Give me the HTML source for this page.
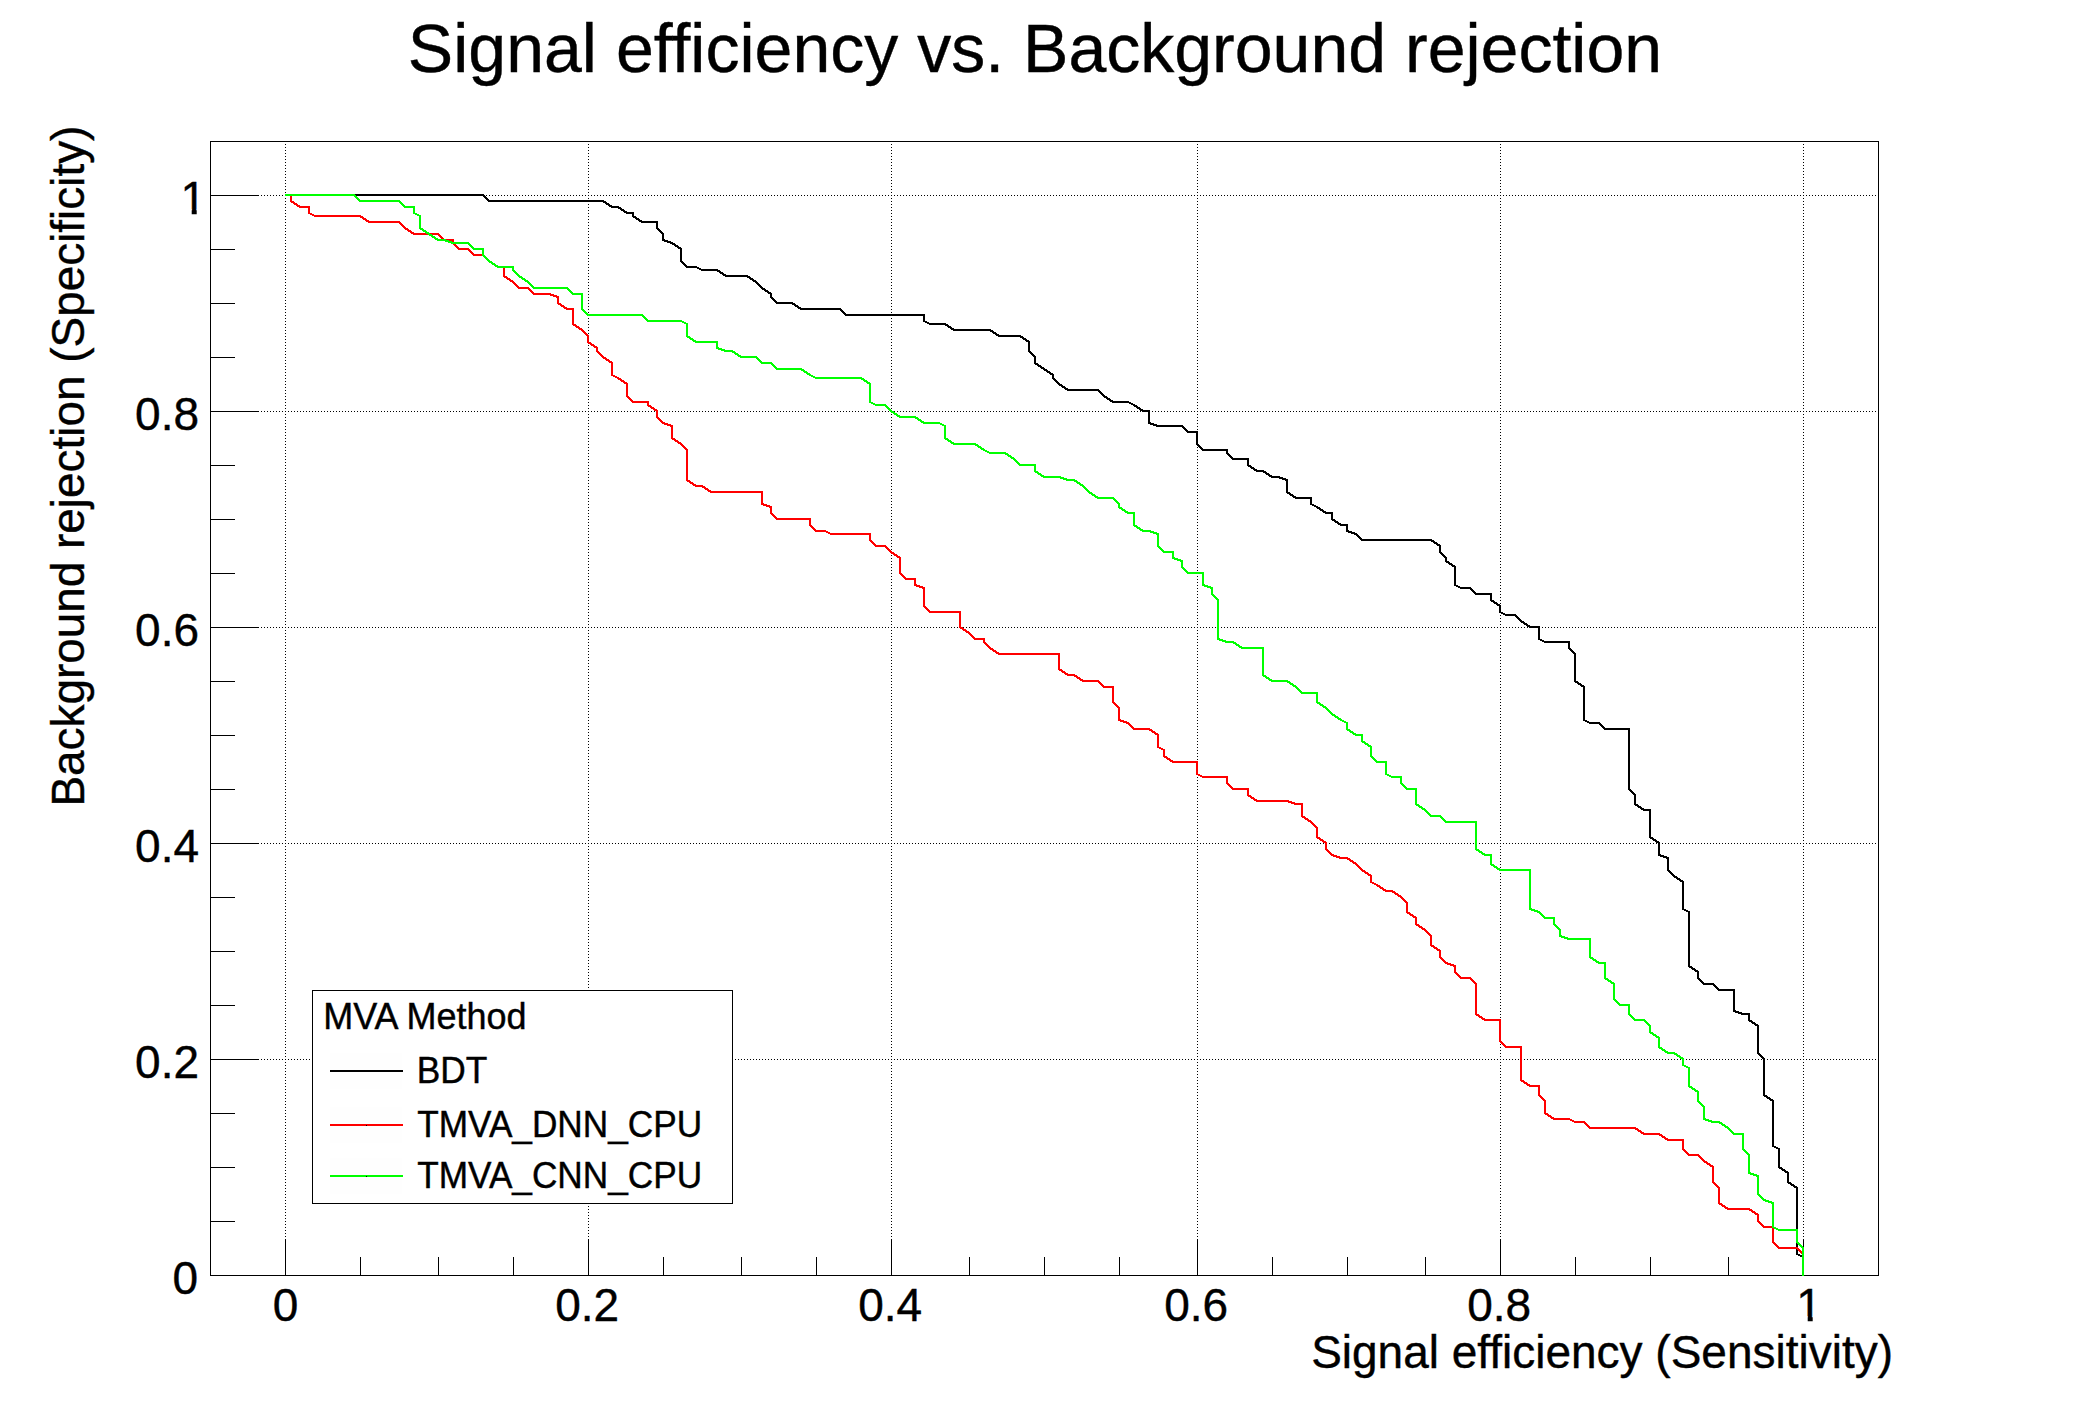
<!DOCTYPE html>
<html lang="en"><head><meta charset="utf-8"><title>Signal efficiency vs. Background rejection</title>
<style>html,body{margin:0;padding:0;background:#fff;overflow:hidden;}svg{display:block;}text{font-family:"Liberation Sans",Arial,Helvetica,sans-serif;fill:#000;stroke:#000;stroke-width:0.4px;font-variant-ligatures:none;}</style></head><body>
<svg width="2088" height="1416" viewBox="0 0 2088 1416">
<rect x="0" y="0" width="2088" height="1416" fill="#fff"/>
<text transform="translate(1035.0,72.0) scale(1,1.015)" font-size="68.04" text-anchor="middle">Signal efficiency vs. Background rejection</text>
<g shape-rendering="crispEdges" stroke="#000" stroke-width="1" fill="none">
<g stroke-dasharray="1 2">
<line x1="285.5" y1="141" x2="285.5" y2="1275"/>
<line x1="588.5" y1="141" x2="588.5" y2="1275"/>
<line x1="891.5" y1="141" x2="891.5" y2="1275"/>
<line x1="1197.5" y1="141" x2="1197.5" y2="1275"/>
<line x1="1500.5" y1="141" x2="1500.5" y2="1275"/>
<line x1="1803.5" y1="141" x2="1803.5" y2="1275"/>
<line x1="210" y1="1059.5" x2="1878" y2="1059.5"/>
<line x1="210" y1="843.5" x2="1878" y2="843.5"/>
<line x1="210" y1="627.5" x2="1878" y2="627.5"/>
<line x1="210" y1="411.5" x2="1878" y2="411.5"/>
<line x1="210" y1="195.5" x2="1878" y2="195.5"/>
</g>
<rect x="210.5" y="141.5" width="1668" height="1134"/>
<line x1="285.5" y1="1239" x2="285.5" y2="1275"/>
<line x1="360.5" y1="1257" x2="360.5" y2="1275"/>
<line x1="210" y1="1221.5" x2="235" y2="1221.5"/>
<line x1="438.5" y1="1257" x2="438.5" y2="1275"/>
<line x1="210" y1="1167.5" x2="235" y2="1167.5"/>
<line x1="513.5" y1="1257" x2="513.5" y2="1275"/>
<line x1="210" y1="1113.5" x2="235" y2="1113.5"/>
<line x1="588.5" y1="1239" x2="588.5" y2="1275"/>
<line x1="210" y1="1059.5" x2="259" y2="1059.5"/>
<line x1="663.5" y1="1257" x2="663.5" y2="1275"/>
<line x1="210" y1="1005.5" x2="235" y2="1005.5"/>
<line x1="741.5" y1="1257" x2="741.5" y2="1275"/>
<line x1="210" y1="951.5" x2="235" y2="951.5"/>
<line x1="816.5" y1="1257" x2="816.5" y2="1275"/>
<line x1="210" y1="897.5" x2="235" y2="897.5"/>
<line x1="891.5" y1="1239" x2="891.5" y2="1275"/>
<line x1="210" y1="843.5" x2="259" y2="843.5"/>
<line x1="969.5" y1="1257" x2="969.5" y2="1275"/>
<line x1="210" y1="789.5" x2="235" y2="789.5"/>
<line x1="1044.5" y1="1257" x2="1044.5" y2="1275"/>
<line x1="210" y1="735.5" x2="235" y2="735.5"/>
<line x1="1119.5" y1="1257" x2="1119.5" y2="1275"/>
<line x1="210" y1="681.5" x2="235" y2="681.5"/>
<line x1="1197.5" y1="1239" x2="1197.5" y2="1275"/>
<line x1="210" y1="627.5" x2="259" y2="627.5"/>
<line x1="1272.5" y1="1257" x2="1272.5" y2="1275"/>
<line x1="210" y1="573.5" x2="235" y2="573.5"/>
<line x1="1347.5" y1="1257" x2="1347.5" y2="1275"/>
<line x1="210" y1="519.5" x2="235" y2="519.5"/>
<line x1="1425.5" y1="1257" x2="1425.5" y2="1275"/>
<line x1="210" y1="465.5" x2="235" y2="465.5"/>
<line x1="1500.5" y1="1239" x2="1500.5" y2="1275"/>
<line x1="210" y1="411.5" x2="259" y2="411.5"/>
<line x1="1575.5" y1="1257" x2="1575.5" y2="1275"/>
<line x1="210" y1="357.5" x2="235" y2="357.5"/>
<line x1="1650.5" y1="1257" x2="1650.5" y2="1275"/>
<line x1="210" y1="303.5" x2="235" y2="303.5"/>
<line x1="1728.5" y1="1257" x2="1728.5" y2="1275"/>
<line x1="210" y1="249.5" x2="235" y2="249.5"/>
<line x1="1803.5" y1="1239" x2="1803.5" y2="1275"/>
<line x1="210" y1="195.5" x2="259" y2="195.5"/>
</g>
<g shape-rendering="crispEdges" fill="none" stroke-width="2" stroke-linejoin="miter" stroke-linecap="butt">
<polyline stroke="#000000" points="285,195 483,195 489,201 603,201 612,207 618,207 627,213 633,213 633,216 642,222 657,222 657,228 663,234 663,240 672,243 681,249 681,261 687,267 696,267 702,270 717,270 726,276 747,276 756,282 762,288 771,294 771,297 777,303 792,303 801,309 840,309 846,315 924,315 924,321 930,324 945,324 954,330 990,330 999,336 1020,336 1029,342 1029,351 1035,357 1035,363 1044,369 1053,375 1053,378 1059,384 1068,390 1098,390 1104,396 1113,402 1128,402 1134,405 1143,411 1149,411 1149,423 1158,426 1182,426 1188,432 1197,432 1197,444 1203,450 1227,450 1227,453 1233,459 1248,459 1248,465 1257,471 1263,471 1272,477 1278,477 1287,480 1287,492 1296,498 1311,498 1311,504 1317,507 1326,513 1332,513 1332,519 1341,525 1347,525 1347,531 1356,534 1362,540 1431,540 1440,546 1440,552 1446,558 1446,561 1455,567 1455,585 1461,588 1470,588 1476,594 1491,594 1491,600 1500,606 1500,612 1506,615 1515,615 1521,621 1530,627 1539,627 1539,639 1545,642 1569,642 1569,648 1575,654 1575,681 1584,687 1584,720 1590,723 1599,723 1605,729 1629,729 1629,789 1635,795 1635,804 1644,810 1650,810 1650,837 1659,843 1659,855 1668,858 1668,870 1674,876 1683,882 1683,909 1689,912 1689,966 1698,972 1698,978 1704,984 1713,984 1719,990 1734,990 1734,1011 1743,1014 1749,1014 1749,1020 1758,1026 1758,1053 1764,1059 1764,1095 1773,1101 1773,1146 1779,1149 1779,1167 1788,1173 1788,1182 1797,1188 1797,1254 1803,1257"/>
<polyline stroke="#ff0000" points="285,195 291,195 291,201 300,207 309,207 309,213 315,216 360,216 369,222 399,222 405,228 414,234 438,234 444,240 453,240 453,243 459,249 468,249 474,255 483,255 489,261 498,267 504,267 504,276 513,282 519,288 528,288 534,294 549,294 558,297 558,303 567,309 573,309 573,324 582,330 588,336 588,342 597,348 597,351 603,357 612,363 612,375 618,378 627,384 627,396 633,402 648,402 648,405 657,411 657,417 663,423 672,426 672,438 681,444 687,450 687,480 696,486 702,486 711,492 762,492 762,504 771,507 771,513 777,519 810,519 810,525 816,531 825,531 831,534 870,534 870,540 876,546 885,546 891,552 900,558 900,573 906,579 915,579 915,585 924,588 924,606 930,612 960,612 960,627 969,633 975,639 984,639 984,642 990,648 999,654 1059,654 1059,669 1068,675 1074,675 1083,681 1098,681 1104,687 1113,687 1113,702 1119,708 1119,720 1128,723 1134,729 1149,729 1158,735 1158,747 1164,750 1164,756 1173,762 1197,762 1197,774 1203,777 1227,777 1227,783 1233,789 1248,789 1248,795 1257,801 1287,801 1296,804 1302,804 1302,816 1311,822 1317,828 1317,837 1326,843 1326,849 1332,855 1341,858 1347,858 1356,864 1362,870 1371,876 1371,882 1377,885 1386,891 1392,891 1401,897 1407,903 1407,912 1416,918 1416,924 1425,930 1431,936 1431,945 1440,951 1440,957 1446,963 1455,966 1455,972 1461,978 1470,978 1476,984 1476,1014 1485,1020 1500,1020 1500,1041 1506,1047 1521,1047 1521,1080 1530,1086 1539,1086 1539,1095 1545,1101 1545,1113 1554,1119 1569,1119 1575,1122 1584,1122 1590,1128 1635,1128 1644,1134 1659,1134 1668,1140 1683,1140 1683,1149 1689,1155 1698,1155 1704,1161 1713,1167 1713,1182 1719,1188 1719,1203 1728,1209 1749,1209 1758,1215 1758,1221 1764,1227 1773,1227 1773,1242 1779,1248 1797,1248 1803,1254"/>
<polyline stroke="#00ff00" points="285,195 354,195 360,201 399,201 405,207 414,207 414,213 420,216 420,228 429,234 438,240 444,240 453,243 468,243 474,249 483,249 483,255 489,261 498,267 513,267 513,270 519,276 528,282 534,288 567,288 573,294 582,294 582,309 588,315 642,315 648,321 681,321 687,324 687,336 696,342 717,342 717,348 726,351 732,351 741,357 756,357 762,363 771,363 777,369 801,369 810,375 816,378 861,378 870,384 870,402 876,405 885,405 891,411 900,417 915,417 924,423 939,423 945,426 945,438 954,444 975,444 984,450 990,453 1005,453 1014,459 1020,465 1035,465 1035,471 1044,477 1059,477 1068,480 1074,480 1083,486 1089,492 1098,498 1113,498 1119,504 1119,507 1128,513 1134,513 1134,525 1143,531 1149,531 1158,534 1158,546 1164,552 1173,552 1173,558 1182,561 1182,567 1188,573 1203,573 1203,585 1212,588 1212,594 1218,600 1218,639 1227,642 1233,642 1242,648 1263,648 1263,675 1272,681 1287,681 1296,687 1302,693 1317,693 1317,702 1326,708 1332,714 1341,720 1347,723 1347,729 1356,735 1362,735 1362,741 1371,747 1371,756 1377,762 1386,762 1386,774 1392,777 1401,777 1401,783 1407,789 1416,789 1416,804 1425,810 1431,816 1440,816 1446,822 1476,822 1476,849 1485,855 1491,855 1491,864 1500,870 1530,870 1530,909 1539,912 1545,918 1554,918 1554,924 1560,930 1560,936 1569,939 1590,939 1590,957 1599,963 1605,963 1605,978 1614,984 1614,999 1620,1005 1629,1005 1629,1014 1635,1020 1644,1020 1650,1026 1650,1032 1659,1038 1659,1047 1668,1053 1674,1053 1683,1059 1683,1065 1689,1068 1689,1086 1698,1092 1698,1101 1704,1107 1704,1119 1713,1122 1719,1122 1728,1128 1734,1134 1743,1134 1743,1149 1749,1155 1749,1173 1758,1176 1758,1194 1764,1200 1773,1203 1773,1227 1779,1230 1797,1230 1797,1242 1803,1248 1803,1276"/>
</g>
<text transform="translate(285.5,1320.5) scale(1,1.02)" font-size="46" text-anchor="middle">0</text>
<text transform="translate(198.2,1293.7) scale(1,1.02)" font-size="46" text-anchor="end">0</text>
<text transform="translate(587.2,1320.5) scale(1,1.02)" font-size="46" text-anchor="middle">0.2</text>
<text transform="translate(199,1077.7) scale(1,1.02)" font-size="46" text-anchor="end">0.2</text>
<text transform="translate(890.2,1320.5) scale(1,1.02)" font-size="46" text-anchor="middle">0.4</text>
<text transform="translate(199,861.7) scale(1,1.02)" font-size="46" text-anchor="end">0.4</text>
<text transform="translate(1196.2,1320.5) scale(1,1.02)" font-size="46" text-anchor="middle">0.6</text>
<text transform="translate(199,645.7) scale(1,1.02)" font-size="46" text-anchor="end">0.6</text>
<text transform="translate(1499.2,1320.5) scale(1,1.02)" font-size="46" text-anchor="middle">0.8</text>
<text transform="translate(199,429.7) scale(1,1.02)" font-size="46" text-anchor="end">0.8</text>
<text transform="translate(1809.0,1320.5) scale(1,1.02)" font-size="46" text-anchor="middle">1</text>
<text transform="translate(206,213.7) scale(1,1.02)" font-size="46" text-anchor="end">1</text>
<rect x="1797.5" y="1316.3" width="10.2" height="6.5" fill="#fff"/><rect x="1812.7" y="1316.3" width="9" height="6.5" fill="#fff"/>
<rect x="181.5" y="209.3" width="10.2" height="6.5" fill="#fff"/><rect x="196.7" y="209.3" width="9" height="6.5" fill="#fff"/>
<text transform="translate(1893.0,1367.8) scale(1,1.015)" font-size="46.0" text-anchor="end">Signal efficiency (Sensitivity)</text>
<text transform="translate(84.3,125.6) rotate(-90) scale(1,1.015)" font-size="45.9" text-anchor="end">Background rejection (Specificity)</text>
<g shape-rendering="crispEdges"><rect x="312.5" y="990.5" width="420" height="213" fill="#fff" stroke="#000" stroke-width="1"/>
<rect x="330" y="1053" width="72" height="36" fill="#fefefe"/>
<line x1="330" y1="1071" x2="403" y2="1071" stroke="#000" stroke-width="2"/>
<rect x="330" y="1107" width="72" height="36" fill="#fefefe"/>
<line x1="330" y1="1125" x2="403" y2="1125" stroke="#f00" stroke-width="2"/>
<rect x="366" y="1125" width="1" height="1" fill="#000"/>
<rect x="330" y="1158" width="72" height="36" fill="#fefefe"/>
<line x1="330" y1="1176" x2="403" y2="1176" stroke="#0f0" stroke-width="2"/>
<rect x="366" y="1176" width="1" height="1" fill="#000"/>
</g>
<text transform="translate(323.2,1028.8) scale(1,1.04)" font-size="36.0" text-anchor="start">MVA Method</text>
<text transform="translate(416.7,1082.7) scale(1,1.04)" font-size="35.3" text-anchor="start">BDT</text>
<text transform="translate(417.2,1137.1) scale(1,1.04)" font-size="35.2" text-anchor="start">TMVA_DNN_CPU</text>
<text transform="translate(417.2,1188.0) scale(1,1.04)" font-size="35.2" text-anchor="start">TMVA_CNN_CPU</text>
</svg></body></html>
